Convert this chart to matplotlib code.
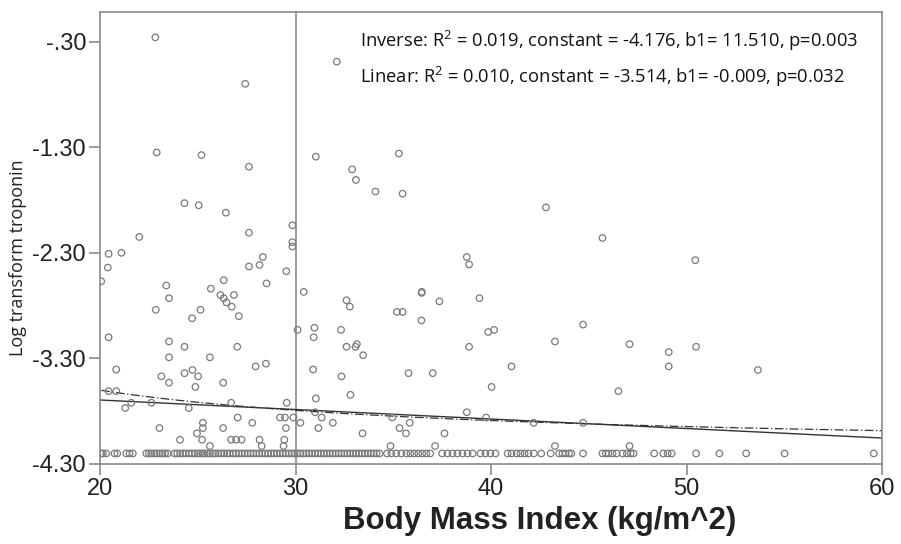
import numpy as np
import matplotlib
matplotlib.use("Agg")
import matplotlib.pyplot as plt

plt.rcParams["mathtext.fontset"] = "custom"
plt.rcParams["mathtext.rm"] = "Open Sans"
plt.rcParams["mathtext.it"] = "Open Sans"

# ---- data ----
bmi = [22.83, 27.43, 32.11, 22.90, 25.19, 27.62, 31.04, 35.29, 32.90, 33.09, 34.09, 35.48,
       24.32, 25.05, 26.44, 42.81, 29.84, 27.62, 22.01, 45.70, 29.84, 29.84, 20.44, 21.10,
       20.40, 27.62, 28.16, 28.33, 38.76, 38.88, 50.45, 20.06, 29.53, 28.52, 30.42, 23.39,
       23.53, 26.33, 25.67, 26.16, 26.33, 26.47, 26.74, 26.85, 27.10, 22.85, 25.14, 24.71,
       32.61, 32.78, 35.19, 35.48, 36.45, 36.46, 36.44, 37.36, 39.41, 44.71, 20.44, 30.11,
       30.97, 30.93, 32.33, 39.86, 40.16, 23.53, 24.32, 27.02, 32.61, 33.07, 33.14, 33.46,
       38.88, 43.27, 47.09, 49.09, 50.49, 23.53, 25.62, 20.83, 27.96, 28.49, 30.90, 35.78,
       37.02, 41.05, 49.09, 53.65, 23.14, 24.32, 24.73, 25.02, 32.35, 23.53, 24.88, 26.30,
       40.03, 46.52, 20.44, 20.83, 31.04, 32.81, 21.29, 21.60, 22.63, 24.54, 26.71, 29.55,
       31.00, 38.76, 27.04, 29.21, 29.46, 29.89, 31.34, 34.95, 39.75, 27.79, 30.25, 25.26,
       31.91, 35.84, 42.18, 44.71, 25.26, 23.04, 26.30, 29.51, 31.17, 35.32, 24.96, 33.43,
       35.65, 37.62, 24.09, 25.22, 26.71, 26.96, 27.24, 28.16, 29.43, 28.27, 25.62, 29.39,
       34.86, 37.14, 43.27, 47.09]
log_trop = [-0.26, -0.70, -0.49, -1.35, -1.375, -1.485, -1.39, -1.36, -1.51, -1.61, -1.72, -1.74,
            -1.83, -1.85, -1.92, -1.87, -2.04, -2.11, -2.15, -2.16, -2.20, -2.24, -2.31, -2.30,
            -2.44, -2.43, -2.415, -2.34, -2.34, -2.41, -2.37, -2.57, -2.475, -2.59, -2.67, -2.61,
            -2.73, -2.56, -2.64, -2.70, -2.73, -2.77, -2.81, -2.70, -2.90, -2.84, -2.84, -2.92,
            -2.75, -2.81, -2.86, -2.86, -2.68, -2.67, -2.94, -2.76, -2.73, -2.98, -3.10, -3.03,
            -3.01, -3.10, -3.03, -3.05, -3.03, -3.14, -3.19, -3.19, -3.19, -3.19, -3.165, -3.27,
            -3.19, -3.14, -3.165, -3.24, -3.19, -3.29, -3.29, -3.405, -3.376, -3.35, -3.405, -3.44,
            -3.44, -3.376, -3.376, -3.41, -3.47, -3.44, -3.41, -3.47, -3.47, -3.53, -3.57, -3.53,
            -3.57, -3.61, -3.61, -3.61, -3.68, -3.645, -3.77, -3.72, -3.72, -3.77, -3.72, -3.72,
            -3.81, -3.81, -3.86, -3.86, -3.86, -3.86, -3.86, -3.86, -3.86, -3.91, -3.91, -3.91,
            -3.91, -3.91, -3.91, -3.91, -3.96, -3.96, -3.96, -3.96, -3.96, -3.96, -4.01, -4.01,
            -4.01, -4.01, -4.07, -4.07, -4.07, -4.07, -4.07, -4.07, -4.07, -4.13, -4.13, -4.13,
            -4.13, -4.13, -4.13, -4.13]

# patients at the assay detection floor
floor_value = -4.20
bmi_at_floor = [20.06, 20.15, 20.32, 20.74, 20.88, 21.34, 21.51, 21.68,
                22.37, 22.50, 22.62, 22.78, 22.90, 23.05, 23.20, 23.33, 23.46, 23.82, 23.95,
                24.10, 24.25, 24.38, 24.55, 24.70, 24.85, 25.00, 25.12, 25.25, 25.36,
                25.50, 25.62, 25.78, 25.90, 26.05, 26.20, 26.35, 26.50, 26.62, 26.80, 26.95,
                27.10, 27.25, 27.40, 27.55, 27.70, 27.85, 28.00, 28.15, 28.30, 28.45, 28.60,
                28.75, 28.90, 29.05, 29.20, 29.35, 29.50, 29.65, 29.80, 29.95, 30.10, 30.25,
                30.40, 30.55, 30.70, 30.85, 31.00, 31.15, 31.30, 31.45, 31.60, 31.75, 31.90,
                32.05, 32.20, 32.35, 32.50, 32.65, 32.80, 32.95, 33.10, 33.25, 33.40, 33.55,
                33.70, 33.85, 34.00, 34.15, 34.30, 34.68, 34.90, 35.15, 35.41, 35.67,
                35.87, 36.07, 36.28, 36.48, 36.69, 36.89, 37.50, 37.77, 38.03, 38.28, 38.54,
                38.80, 39.06, 39.46, 39.72, 39.97, 40.23, 40.85, 41.05, 41.31, 41.51, 41.72,
                41.92, 42.19, 42.57, 43.05, 43.48, 43.65, 43.82, 43.99, 44.11, 44.71, 45.70,
                45.87, 46.01, 46.22, 46.42, 46.73, 46.95, 47.15, 47.29, 48.35, 48.81, 49.04,
                49.24, 50.49, 51.68, 53.05, 55.02, 59.58]

# fitted models as reported on the chart
inv_const, inv_b1 = -4.176, 11.510
lin_const, lin_b1 = -3.514, -0.009
label_inverse = "Inverse: R$^{2}$ = 0.019, constant = -4.176, b1= 11.510, p=0.003"
label_linear = "Linear: R$^{2}$ = 0.010, constant = -3.514, b1= -0.009, p=0.032"

xticks = [20, 30, 40, 50, 60]
yticks = [-0.30, -1.30, -2.30, -3.30, -4.30]
yticklabels = ["-.30", "-1.30", "-2.30", "-3.30", "-4.30"]
ref_x = 30

# ---- drawing ----
fig = plt.figure(figsize=(9.01, 5.44), dpi=100)
ax = fig.add_axes([100 / 901, 1 - 464 / 544, 782 / 901, 452 / 544])
frame_col = "#8a8a8a"
pt_col = "#7a7a7a"

all_x = np.array(bmi + bmi_at_floor)
all_y = np.array(log_trop + [floor_value] * len(bmi_at_floor))
ax.scatter(all_x, all_y, s=22, facecolors="none", edgecolors=pt_col, linewidths=0.9, zorder=3)

xs = np.linspace(20, 60, 400)
ax.plot(xs, lin_const + lin_b1 * xs, color="#333333", lw=1.0, zorder=2)
xi = np.linspace(min(all_x), 60, 400)
ax.plot(xi, inv_const + inv_b1 / xi, color="#333333", lw=0.9,
        dashes=(7, 2, 1, 2), zorder=2)

ax.axvline(ref_x, color=frame_col, lw=1.2, zorder=1)

ax.set_xlim(20, 60)
ax.set_ylim(-4.30, -0.02)
ax.set_xticks(xticks)
ax.set_xticklabels([str(t) for t in xticks])
ax.set_yticks(yticks)
ax.set_yticklabels(yticklabels)

tick_font = ["Liberation Sans Narrow", "Liberation Sans", "DejaVu Sans"]
for lab in ax.get_xticklabels() + ax.get_yticklabels():
    lab.set_family(tick_font)
    lab.set_fontsize(17)
    lab.set_color("#222222")
ax.tick_params(axis="both", direction="out", length=8, width=1.2, color=frame_col, pad=2)

for sp in ax.spines.values():
    sp.set_color(frame_col)
    sp.set_linewidth(1.2)

fig.text(540 / 901, 1 - 521 / 544, "Body Mass Index (kg/m^2)", fontsize=22.5,
         fontweight="bold", family=["Liberation Sans", "DejaVu Sans"],
         ha="center", va="center", color="#222222")
fig.text(18 / 901, 1 - 258 / 544, "Log transform troponin", fontsize=13, rotation=90,
         family=["Open Sans", "DejaVu Sans"], ha="center", va="center", color="#222222")

ax.text(33.3, -0.29, label_inverse, fontsize=13.2, family=["Open Sans", "DejaVu Sans"],
        va="center", ha="left", color="#111111")
ax.text(33.3, -0.635, label_linear, fontsize=13.2, family=["Open Sans", "DejaVu Sans"],
        va="center", ha="left", color="#111111")

fig.savefig("out.png", dpi=100)
